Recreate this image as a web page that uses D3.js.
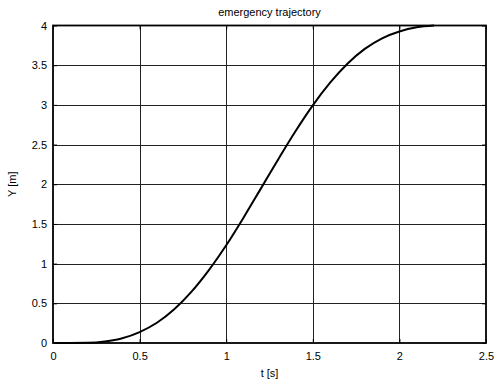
<!DOCTYPE html>
<html><head><meta charset="utf-8">
<script src="https://cdn.jsdelivr.net/npm/d3@7"></script>
<style>body{margin:0;background:#fff}svg{display:block}text{font-family:"Liberation Sans",Arial,sans-serif}</style>
</head><body>
<script>
const title = "emergency trajectory";
const xLabel = "t [s]";
const yLabel = "Y [m]";
const xTicks = [0, 0.5, 1, 1.5, 2, 2.5];
const yTicks = [0, 0.5, 1, 1.5, 2, 2.5, 3, 3.5, 4];
const tValues = [0,0.1,0.2,0.3,0.4,0.5,0.6,0.7,0.8,0.9,1.0,1.1,1.2,1.3,1.4,1.5,1.6,1.7,1.8,1.9,2.0,2.1,2.2];
const yValues = [0,0,0.002,0.019,0.06,0.138,0.255,0.425,0.647,0.918,1.231,1.579,1.945,2.313,2.668,2.994,3.279,3.518,3.705,3.839,3.925,3.978,4.0];

const W = 495, H = 385;
const m = {left:53, right:486, top:25.5, bottom:343};
const svg = d3.select("body").append("svg").attr("width", W).attr("height", H);
const x = d3.scaleLinear().domain([0, 2.5]).range([m.left, m.right]);
const y = d3.scaleLinear().domain([0, 4]).range([m.bottom, m.top]);

// grid
svg.append("g").selectAll("line").data(xTicks.slice(1, -1)).join("line")
  .attr("x1", d => Math.round(x(d)) + 0.5).attr("x2", d => Math.round(x(d)) + 0.5)
  .attr("y1", m.top).attr("y2", m.bottom).attr("stroke", "#222").attr("stroke-width", 1);
svg.append("g").selectAll("line").data(yTicks.slice(1, -1)).join("line")
  .attr("y1", d => Math.round(y(d)) + 0.5).attr("y2", d => Math.round(y(d)) + 0.5)
  .attr("x1", m.left).attr("x2", m.right).attr("stroke", "#222").attr("stroke-width", 1);

// axes
const xAxis = d3.axisBottom(x).tickValues(xTicks).tickSize(-4).tickPadding(9).tickFormat(d3.format("~g"));
const yAxis = d3.axisLeft(y).tickValues(yTicks).tickSize(-4).tickPadding(6).tickFormat(d3.format("~g"));
const gx = svg.append("g").attr("transform", `translate(0,${m.bottom})`).call(xAxis);
const gy = svg.append("g").attr("transform", `translate(${m.left},0)`).call(yAxis);
[gx, gy].forEach(g => {
  g.select(".domain").remove();
  g.selectAll(".tick line").attr("stroke", "#000");
  g.selectAll("text").attr("font-size", 11).attr("fill", "#000");
});
const gxTop = svg.append("g").attr("transform", `translate(0,${m.top})`).call(d3.axisTop(x).tickValues(xTicks).tickSize(-4).tickFormat(""));
const gyRight = svg.append("g").attr("transform", `translate(${m.right},0)`).call(d3.axisRight(y).tickValues(yTicks).tickSize(-4).tickFormat(""));
[gxTop, gyRight].forEach(g => { g.select(".domain").remove(); g.selectAll(".tick line").attr("stroke", "#000"); });

// curve
const data = tValues.map((t, i) => [t, yValues[i]]);
svg.append("path").datum(data)
  .attr("d", d3.line().x(d => x(d[0])).y(d => y(d[1])).curve(d3.curveMonotoneX))
  .attr("fill", "none").attr("stroke", "#000").attr("stroke-width", 2);

// box
svg.append("rect").attr("x", m.left).attr("y", m.top).attr("width", m.right - m.left).attr("height", m.bottom - m.top)
  .attr("fill", "none").attr("stroke", "#000").attr("stroke-width", 1.8);

// labels
svg.append("text").attr("x", (m.left + m.right) / 2).attr("y", 16).attr("text-anchor", "middle")
  .attr("font-size", 11).text(title);
svg.append("text").attr("x", (m.left + m.right) / 2).attr("y", 377).attr("text-anchor", "middle")
  .attr("font-size", 11).text(xLabel);
svg.append("text").attr("transform", `translate(16,${(m.top + m.bottom) / 2}) rotate(-90)`).attr("text-anchor", "middle")
  .attr("font-size", 11).text(yLabel);
</script>
</body></html>
